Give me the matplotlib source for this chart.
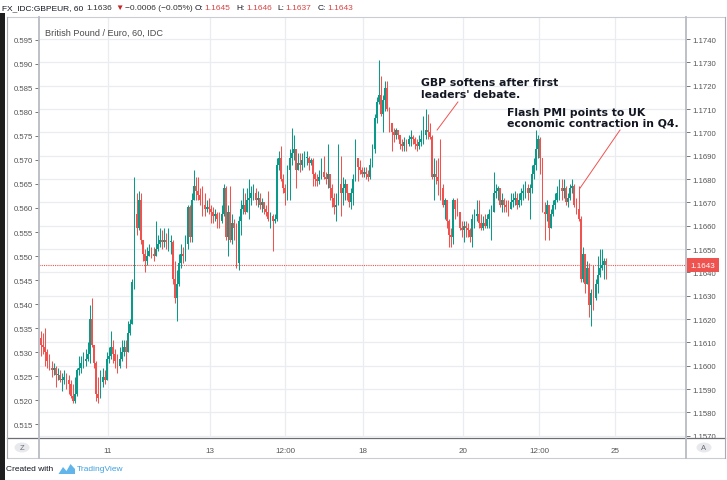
import numpy as np
import matplotlib
matplotlib.use("Agg")
import matplotlib.pyplot as plt
from matplotlib.patches import Rectangle, Circle, Polygon
from matplotlib.lines import Line2D

W, H = 727, 481

# --- hourly GBP/EUR candles ------------------------------------------------
first_open = 1.1612
closes = [
    1.1609, 1.1608, 1.1606, 1.1602, 1.1599, 1.1598, 1.1599, 1.1596, 1.1596, 1.1594,
    1.1594, 1.1595, 1.1594, 1.1592, 1.1587, 1.1585, 1.1588, 1.1598, 1.1599, 1.1601,
    1.1602, 1.1603, 1.1605, 1.1620, 1.1609, 1.1601, 1.1588, 1.1586, 1.1593, 1.1595,
    1.1594, 1.1603, 1.1604, 1.1608, 1.1605, 1.1602, 1.1600, 1.1603, 1.1606, 1.1608,
    1.1606, 1.1614, 1.1618, 1.1636, 1.1665, 1.1659, 1.1671, 1.1654, 1.1648, 1.1645,
    1.1647, 1.1649, 1.1648, 1.1647, 1.1650, 1.1652, 1.1654, 1.1653, 1.1654, 1.1653,
    1.1653, 1.1653, 1.1637, 1.1629, 1.1635, 1.1644, 1.1648, 1.1647, 1.1652, 1.1668,
    1.1655, 1.1671, 1.1677, 1.1675, 1.1673, 1.1671, 1.1669, 1.1667, 1.1668, 1.1667,
    1.1666, 1.1664, 1.1665, 1.1663, 1.1662, 1.1665, 1.1676, 1.1655, 1.1666, 1.1654,
    1.1661, 1.1659, 1.1644, 1.1662, 1.1667, 1.1669, 1.1666, 1.1671, 1.1672, 1.1674,
    1.1674, 1.1671, 1.1672, 1.1669, 1.1670, 1.1667, 1.1666, 1.1663, 1.1664, 1.1662,
    1.1663, 1.1686, 1.1689, 1.1680, 1.1676, 1.1674, 1.1684, 1.1689, 1.1691, 1.1693,
    1.1684, 1.1687, 1.1686, 1.1688, 1.1689, 1.1689, 1.1687, 1.1688, 1.1682, 1.1680,
    1.1679, 1.1681, 1.1683, 1.1681, 1.1680, 1.1682, 1.1676, 1.1672, 1.1668, 1.1669,
    1.1678, 1.1674, 1.1676, 1.1678, 1.1674, 1.1670, 1.1674, 1.1680, 1.1689, 1.1685,
    1.1684, 1.1682, 1.1683, 1.1682, 1.1681, 1.1686, 1.1693, 1.1706, 1.1713, 1.1716,
    1.1708, 1.1714, 1.1719, 1.1710, 1.1704, 1.1700, 1.1699, 1.1701, 1.1699, 1.1695,
    1.1694, 1.1696, 1.1695, 1.1697, 1.1698, 1.1697, 1.1695, 1.1694, 1.1696, 1.1697,
    1.1699, 1.1701, 1.1700, 1.1698, 1.1681, 1.1682, 1.1681, 1.1679, 1.1676, 1.1669,
    1.1671, 1.1662, 1.1656, 1.1655, 1.1671, 1.1667, 1.1666, 1.1659, 1.1658, 1.1660,
    1.1659, 1.1658, 1.1655, 1.1663, 1.1664, 1.1665, 1.1661, 1.1659, 1.1661, 1.1660,
    1.1663, 1.1665, 1.1666, 1.1674, 1.1675, 1.1676, 1.1669, 1.1671, 1.1669, 1.1668,
    1.1667, 1.1670, 1.1671, 1.1672, 1.1669, 1.1671, 1.1674, 1.1675, 1.1676, 1.1674,
    1.1676, 1.1682, 1.1686, 1.1693, 1.1697, 1.1689, 1.1666, 1.1665, 1.1669, 1.1659,
    1.1665, 1.1669, 1.1671, 1.1674, 1.1676, 1.1675, 1.1676, 1.1670, 1.1672, 1.1676,
    1.1677, 1.1669, 1.1667, 1.1663, 1.1637, 1.1648, 1.1635, 1.1642, 1.1626, 1.1631,
    1.1629, 1.1635, 1.1639, 1.1642, 1.1643, 1.1645, 1.1643,
]
highs = [
    1.1615, 1.1614, 1.1616, 1.1607, 1.1605, 1.1602, 1.1601, 1.1600, 1.1599, 1.1598,
    1.1597, 1.1598, 1.1597, 1.1596, 1.1594, 1.1592, 1.1595, 1.1599, 1.1604, 1.1604,
    1.1606, 1.1607, 1.1610, 1.1626, 1.1629, 1.1609, 1.1602, 1.1595, 1.1598, 1.1599,
    1.1598, 1.1606, 1.1608, 1.1615, 1.1611, 1.1607, 1.1605, 1.1608, 1.1611, 1.1611,
    1.1611, 1.1619, 1.1620, 1.1637, 1.1681, 1.1674, 1.1675, 1.1674, 1.1652, 1.1650,
    1.1651, 1.1652, 1.1651, 1.1651, 1.1662, 1.1656, 1.1659, 1.1658, 1.1659, 1.1657,
    1.1659, 1.1656, 1.1654, 1.1645, 1.1641, 1.1648, 1.1652, 1.1651, 1.1656, 1.1669,
    1.1669, 1.1674, 1.1684, 1.1681, 1.1681, 1.1676, 1.1677, 1.1674, 1.1671, 1.1672,
    1.1669, 1.1668, 1.1667, 1.1666, 1.1666, 1.1669, 1.1678, 1.1677, 1.1669, 1.1677,
    1.1665, 1.1663, 1.1661, 1.1664, 1.1671, 1.1676, 1.1674, 1.1676, 1.1680, 1.1677,
    1.1678, 1.1676, 1.1675, 1.1674, 1.1672, 1.1670, 1.1669, 1.1675, 1.1666, 1.1665,
    1.1665, 1.1689, 1.1692, 1.1694, 1.1682, 1.1678, 1.1686, 1.1693, 1.1702, 1.1699,
    1.1689, 1.1691, 1.1691, 1.1691, 1.1692, 1.1692, 1.1690, 1.1689, 1.1689, 1.1683,
    1.1682, 1.1684, 1.1689, 1.1690, 1.1683, 1.1695, 1.1682, 1.1678, 1.1674, 1.1674,
    1.1695, 1.1690, 1.1681, 1.1680, 1.1678, 1.1674, 1.1676, 1.1682, 1.1697, 1.1689,
    1.1688, 1.1685, 1.1685, 1.1685, 1.1684, 1.1689, 1.1695, 1.1708, 1.1715, 1.1731,
    1.1724, 1.1716, 1.1722, 1.1722, 1.1711, 1.1702, 1.1702, 1.1702, 1.1701, 1.1699,
    1.1697, 1.1698, 1.1697, 1.1699, 1.1701, 1.1699, 1.1698, 1.1697, 1.1699, 1.1701,
    1.1707, 1.1710, 1.1708, 1.1704, 1.1699, 1.1689, 1.1688, 1.1689, 1.1697, 1.1678,
    1.1672, 1.1669, 1.1663, 1.1659, 1.1672, 1.1670, 1.1672, 1.1666, 1.1662, 1.1662,
    1.1662, 1.1661, 1.1659, 1.1665, 1.1667, 1.1671, 1.1671, 1.1665, 1.1664, 1.1665,
    1.1665, 1.1667, 1.1669, 1.1683, 1.1678, 1.1677, 1.1675, 1.1674, 1.1672, 1.1671,
    1.1671, 1.1674, 1.1674, 1.1675, 1.1674, 1.1674, 1.1676, 1.1678, 1.1679, 1.1678,
    1.1678, 1.1686, 1.1689, 1.1701, 1.1699, 1.1698, 1.1684, 1.1670, 1.1671, 1.1664,
    1.1667, 1.1671, 1.1674, 1.1677, 1.1680, 1.1680, 1.1680, 1.1677, 1.1674, 1.1678,
    1.1680, 1.1678, 1.1672, 1.1677, 1.1664, 1.1651, 1.1648, 1.1645, 1.1644, 1.1633,
    1.1643, 1.1637, 1.1647, 1.1650, 1.1650, 1.1646, 1.1646,
]
lows = [
    1.1604, 1.1605, 1.1600, 1.1599, 1.1598, 1.1595, 1.1596, 1.1591, 1.1594, 1.1593,
    1.1589, 1.1592, 1.1590, 1.1588, 1.1586, 1.1584, 1.1584, 1.1587, 1.1596, 1.1597,
    1.1599, 1.1600, 1.1602, 1.1601, 1.1608, 1.1599, 1.1585, 1.1584, 1.1589, 1.1591,
    1.1592, 1.1598, 1.1601, 1.1603, 1.1601, 1.1599, 1.1597, 1.1599, 1.1602, 1.1604,
    1.1599, 1.1606, 1.1613, 1.1618, 1.1633, 1.1656, 1.1658, 1.1652, 1.1645, 1.1640,
    1.1643, 1.1647, 1.1646, 1.1645, 1.1647, 1.1649, 1.1651, 1.1650, 1.1651, 1.1650,
    1.1649, 1.1648, 1.1635, 1.1627, 1.1619, 1.1634, 1.1642, 1.1644, 1.1645, 1.1650,
    1.1653, 1.1653, 1.1671, 1.1671, 1.1671, 1.1669, 1.1664, 1.1664, 1.1666, 1.1665,
    1.1661, 1.1661, 1.1662, 1.1659, 1.1659, 1.1661, 1.1664, 1.1654, 1.1647, 1.1653,
    1.1652, 1.1654, 1.1642, 1.1641, 1.1656, 1.1665, 1.1665, 1.1666, 1.1663, 1.1669,
    1.1671, 1.1669, 1.1668, 1.1667, 1.1666, 1.1665, 1.1664, 1.1662, 1.1659, 1.1649,
    1.1661, 1.1662, 1.1684, 1.1679, 1.1674, 1.1669, 1.1671, 1.1671, 1.1686, 1.1688,
    1.1676, 1.1684, 1.1683, 1.1684, 1.1685, 1.1686, 1.1684, 1.1686, 1.1677, 1.1677,
    1.1677, 1.1678, 1.1680, 1.1680, 1.1678, 1.1676, 1.1671, 1.1668, 1.1665, 1.1662,
    1.1669, 1.1664, 1.1669, 1.1671, 1.1671, 1.1668, 1.1667, 1.1669, 1.1679, 1.1679,
    1.1682, 1.1681, 1.1681, 1.1680, 1.1679, 1.1680, 1.1685, 1.1691, 1.1704, 1.1712,
    1.1707, 1.1700, 1.1709, 1.1709, 1.1700, 1.1692, 1.1696, 1.1697, 1.1697, 1.1693,
    1.1692, 1.1692, 1.1692, 1.1694, 1.1694, 1.1695, 1.1693, 1.1692, 1.1693, 1.1694,
    1.1695, 1.1697, 1.1697, 1.1697, 1.1680, 1.1671, 1.1678, 1.1673, 1.1671, 1.1668,
    1.1663, 1.1659, 1.1651, 1.1651, 1.1652, 1.1663, 1.1664, 1.1658, 1.1655, 1.1653,
    1.1655, 1.1655, 1.1653, 1.1651, 1.1659, 1.1662, 1.1659, 1.1658, 1.1658, 1.1659,
    1.1659, 1.1659, 1.1654, 1.1667, 1.1672, 1.1671, 1.1668, 1.1666, 1.1666, 1.1666,
    1.1664, 1.1667, 1.1668, 1.1669, 1.1667, 1.1668, 1.1669, 1.1671, 1.1672, 1.1671,
    1.1663, 1.1674, 1.1680, 1.1684, 1.1689, 1.1682, 1.1666, 1.1654, 1.1662, 1.1654,
    1.1659, 1.1664, 1.1667, 1.1670, 1.1671, 1.1671, 1.1672, 1.1669, 1.1668, 1.1671,
    1.1674, 1.1668, 1.1665, 1.1662, 1.1636, 1.1636, 1.1631, 1.1635, 1.1621, 1.1617,
    1.1624, 1.1628, 1.1631, 1.1638, 1.1641, 1.1637, 1.1637,
]
last_price = 1.1643

time_ticks = [31.5, 79.5, 115, 151.3, 198.6, 234.4, 270.1]
time_labels = ["11", "13", "12:00", "18", "20", "12:00", "25"]
right_ticks = np.arange(1.1570, 1.17405, 0.001)
left_ticks = np.arange(0.515, 0.59505, 0.005)

# header pieces: text, colour, gap after (px)
header = [
    ("FX_IDC:GBPEUR, 60", "#131722", 3),
    ("1.1636", "#333333", 3),
    ("\u25bc", "#c62828", 2),
    ("\u22120.0006 (\u22120.05%)", "#333333", 2),
    ("O:", "#131722", 1),
    ("1.1645", "#d84343", 6),
    ("H:", "#131722", 1),
    ("1.1646", "#d84343", 6),
    ("L:", "#131722", 1),
    ("1.1637", "#d84343", 6),
    ("C:", "#131722", 1),
    ("1.1643", "#d84343", 0),
]

UP = "#0b9a89"
DOWN = "#ef5350"
GRID = "#e9edf2"
TXT = "#555555"

plt.rcParams["font.family"] = ["Liberation Sans", "DejaVu Sans"]


def fx(x):
    return x / W


def fy(y):
    return 1 - y / H


fig = plt.figure(figsize=(W / 100, H / 100), dpi=100)

# plot area, left scale in ax, price scale in ax2
ax = fig.add_axes([fx(39.3), fy(438.3), fx(685.7 - 39.3), 420 / H])
ax2 = ax.twinx()

ax.set_xlim(-0.8, 303.4)
ax.set_ylim(0.5123, 0.59966)
ax2.set_ylim(1.15693, 1.17493)

ax.set_yticks(left_ticks)
ax.set_yticklabels([f"{v:.3f}" for v in left_ticks])
ax2.set_yticks(right_ticks)
ax2.set_yticklabels([f"{v:.4f}" for v in right_ticks])
ax.set_xticks(time_ticks)
ax.set_xticklabels(time_labels)

ax.tick_params(axis="y", length=3, width=0.7, color="#777777", labelsize=5.6,
               labelcolor=TXT, pad=1.5)
ax2.tick_params(axis="y", length=3, width=0.7, color="#777777", labelsize=5.6,
                labelcolor=TXT, pad=1.5)
ax.tick_params(axis="x", length=0, labelsize=5.8, labelcolor=TXT, pad=7)

ax.grid(axis="x", color=GRID, lw=0.9)
ax2.grid(axis="y", color=GRID, lw=0.9)
ax.set_axisbelow(True)
ax2.set_axisbelow(True)

for a in (ax, ax2):
    for s in a.spines.values():
        s.set_visible(False)

# candles
c = np.array(closes)
o = np.concatenate([[first_open], c[:-1]])
x = np.arange(len(c))
hi = np.maximum(np.array(highs), np.maximum(o, c))
lo = np.minimum(np.array(lows), np.minimum(o, c))
cols = np.where(c >= o, UP, DOWN)
ax2.vlines(x, lo, hi, colors=cols, lw=0.75, zorder=3)
body_lo = np.minimum(o, c)
body_h = np.maximum(np.abs(c - o), 0.00004)
ax2.bar(x, body_h, bottom=body_lo, width=0.9, color=cols, lw=0, zorder=4,
        antialiased=False)

# last price line and label
ax2.axhline(last_price, color=DOWN, lw=0.8, ls=(0, (1, 1)), zorder=2)
ax2.annotate(f"{last_price:.4f}", xy=(1.0, last_price),
             xycoords=("axes fraction", "data"), xytext=(3.5, 0),
             textcoords="offset points", va="center", ha="left",
             fontsize=5.8, color="white", annotation_clip=False, zorder=10,
             bbox=dict(boxstyle="square,pad=0.45", fc=DOWN, ec="none"))

ax2.text(0.009, 0.975, "British Pound / Euro, 60, IDC", transform=ax2.transAxes,
         fontsize=6.6, color="#4a4a4a", va="top", ha="left")

# annotations
ann_kw = dict(fontsize=7.8, fontweight="bold", family="DejaVu Sans",
              color="#131722", va="top", ha="left", linespacing=1.15, zorder=8)
ax2.text(178.8, 1.17235, "GBP softens after first\nleaders' debate.", **ann_kw)
ax2.text(219.3, 1.17110, "Flash PMI points to UK\neconomic contraction in Q4.", **ann_kw)
ax2.plot([196.2, 186.4], [1.1713, 1.1701], color=DOWN, lw=0.7, zorder=8)
ax2.plot([272.5, 253.6], [1.1701, 1.1676], color=DOWN, lw=0.7, zorder=8)


# frame pieces in figure pixels
def hline(y, x0, x1, color, lw):
    fig.add_artist(Line2D([fx(x0), fx(x1)], [fy(y), fy(y)], color=color, lw=lw, zorder=20))


def vline(xp, y0, y1, color, lw):
    fig.add_artist(Line2D([fx(xp), fx(xp)], [fy(y0), fy(y1)], color=color, lw=lw, zorder=20))


# cover price labels spilling into the time strip
fig.add_artist(Rectangle((fx(686), fy(459)), fx(724 - 686), (459 - 438.8) / H,
                         fc="white", ec="none", zorder=15))

hline(18.3, 6.5, 724.5, "#c9ccd1", 0.8)
hline(438.5, 6.5, 724.5, "#6b6e75", 0.9)
hline(459, 6.5, 724.5, "#c9ccd1", 0.8)
vline(6.5, 18.3, 459, "#a9acb2", 0.8)
vline(724.5, 18.3, 459, "#a9acb2", 0.8)
vline(39.3, 18.3, 459, "#b8bbc1", 1.3)
vline(685.7, 18.3, 459, "#b8bbc1", 1.3)

# left dark band of the screenshot
fig.add_artist(Rectangle((0, 0), fx(4.5), fy(14), fc="#1e1e1e", ec="none", zorder=21))

# Z / A buttons
for cx, lab in ((22, "Z"), (704, "A")):
    fig.add_artist(Circle((fx(cx), fy(448.5)), 7.5 / W, fc="#e8e9ec", ec="none",
                          zorder=21, transform=fig.transFigure))
    fig.text(fx(cx), fy(448.5), lab, fontsize=5.5, color="#6a6d75",
             ha="center", va="center", zorder=22)

# header line, laid out piece after piece
renderer = fig.canvas.get_renderer()
xp = 2
for s, col, gap in header:
    t = fig.text(fx(xp), fy(8.5), s, fontsize=6.0, color=col, ha="left", va="center")
    bb = t.get_window_extent(renderer)
    xp = bb.x1 + gap

# footer
fig.text(fx(6), fy(470), "Created with", fontsize=6.0, color="#131722",
         ha="left", va="center")
logo = Polygon([(fx(58.5), fy(475)), (fx(63), fy(468)), (fx(66.5), fy(472)),
                (fx(70.5), fy(465)), (fx(75), fy(470)), (fx(75), fy(475))],
               closed=True, fc="#62b5ea", ec="none", transform=fig.transFigure)
fig.add_artist(logo)
fig.text(fx(76.5), fy(470), "TradingView", fontsize=6.0, color="#3ea0e0",
         ha="left", va="center")

fig.savefig("out.png", dpi=100)
